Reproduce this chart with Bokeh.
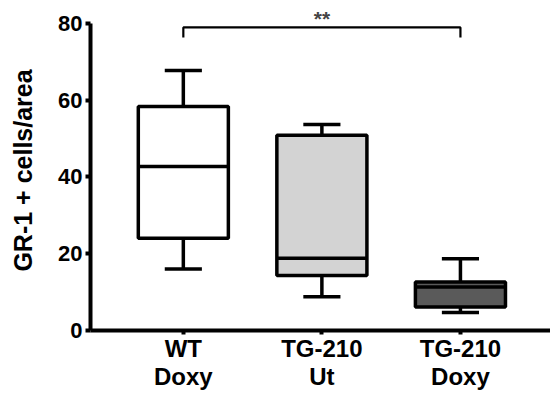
from bokeh.plotting import figure
from bokeh.models import Label, Range1d
from bokeh.embed import file_html
from bokeh.resources import INLINE

# ---- data ----
groups = ["WT\nDoxy", "TG-210\nUt", "TG-210\nDoxy"]
positions = [1, 2, 3]
whisker_low = [16.0, 8.8, 4.7]
q1 = [24.0, 14.3, 6.1]
median = [42.7, 18.8, 11.3]
q3 = [58.3, 50.8, 12.6]
whisker_high = [67.7, 53.6, 18.7]
fills = ["#ffffff", "#d3d3d3", "#5a5a5a"]
y_ticks = [0, 20, 40, 60, 80]
sig_pair = [1, 3]
sig_y = 78.9
sig_text = "**"

FONT = "Liberation Sans"
box_half = 0.325
cap_half = 0.134

p = figure(width=550, height=393, output_backend="svg", toolbar_location=None,
           x_range=Range1d(0.33, 3.65), y_range=Range1d(0, 83.3),
           min_border_left=90, min_border_right=0, min_border_top=10, min_border_bottom=63)
p.outline_line_color = None
p.xgrid.visible = False
p.ygrid.visible = False
p.background_fill_color = "white"
p.border_fill_color = "white"

left = [x - box_half for x in positions]
right = [x + box_half for x in positions]
capl = [x - cap_half for x in positions]
capr = [x + cap_half for x in positions]

# whiskers
p.segment(positions, q3, positions, whisker_high, line_color="black", line_width=3.5)
p.segment(positions, q1, positions, whisker_low, line_color="black", line_width=3.5)
p.segment(capl, whisker_high, capr, whisker_high, line_color="black", line_width=3.5)
p.segment(capl, whisker_low, capr, whisker_low, line_color="black", line_width=3.5)
# boxes
p.quad(left=left, right=right, bottom=q1, top=q3, fill_color=fills,
       line_color="black", line_width=3.5)
p.segment(left, median, right, median, line_color="black", line_width=3.5)

# significance bracket
p.line([sig_pair[0], sig_pair[0], sig_pair[1], sig_pair[1]],
       [sig_y - 2.6, sig_y, sig_y, sig_y - 2.6], line_color="black", line_width=2.2)
p.add_layout(Label(x=(sig_pair[0] + sig_pair[1]) / 2, y=81.2, text=sig_text,
                   text_font=FONT, text_font_style="bold", text_font_size="21px",
                   text_align="center", text_baseline="middle"))

# axes
p.yaxis.ticker = y_ticks
p.yaxis.bounds = (0, 80)
p.yaxis.axis_line_width = 4
p.yaxis.major_tick_line_width = 4
p.yaxis.major_tick_out = 5
p.yaxis.major_tick_in = 0
p.yaxis.minor_tick_line_color = None
p.yaxis.major_label_text_font = FONT
p.yaxis.major_label_text_font_style = "bold"
p.yaxis.major_label_text_font_size = "22px"
p.yaxis.major_label_text_color = "black"
p.yaxis.major_label_standoff = 3
p.yaxis.axis_label = "GR-1 + cells/area"
p.yaxis.axis_label_text_font = FONT
p.yaxis.axis_label_text_font_style = "bold"
p.yaxis.axis_label_text_font_size = "25px"
p.yaxis.axis_label_text_color = "black"
p.yaxis.axis_label_standoff = 18

p.xaxis.ticker = positions
p.xaxis.major_label_overrides = {pos: g for pos, g in zip(positions, groups)}
p.xaxis.axis_line_width = 4
p.xaxis.major_tick_line_width = 4
p.xaxis.major_tick_out = 4
p.xaxis.major_tick_in = 0
p.xaxis.minor_tick_line_color = None
p.xaxis.major_label_text_font = FONT
p.xaxis.major_label_text_font_style = "bold"
p.xaxis.major_label_text_font_size = "24px"
p.xaxis.major_label_text_line_height = 1.05
p.xaxis.major_label_text_color = "black"
p.xaxis.major_label_standoff = 0

open("out.html", "w").write(file_html(p, INLINE))
